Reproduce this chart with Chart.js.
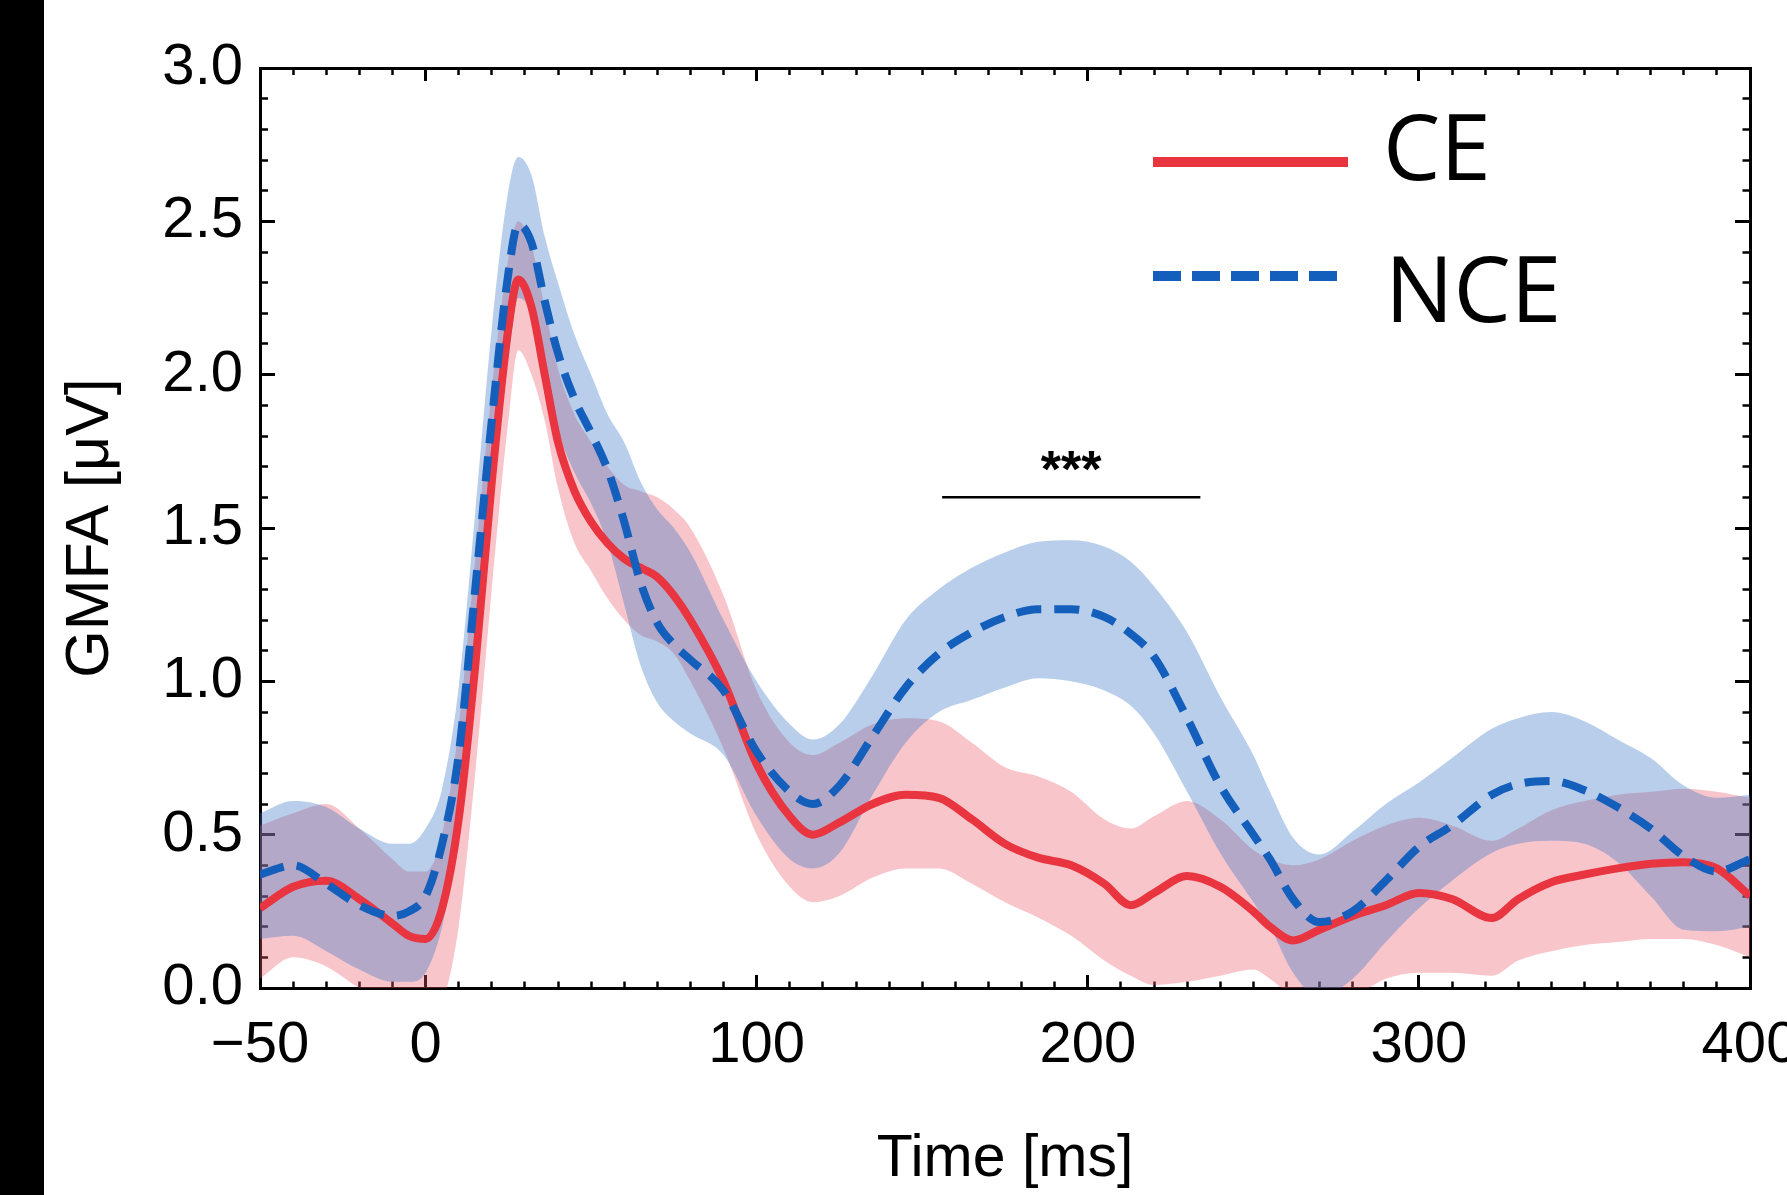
<!DOCTYPE html>
<html>
<head>
<meta charset="utf-8">
<title>GMFA CE vs NCE</title>
<script src="https://cdn.jsdelivr.net/npm/chart.js@4.4.1/dist/chart.umd.min.js"></script>
<style>
  html, body { margin: 0; padding: 0; background: #fff; overflow: hidden; }
  #wrap { position: absolute; left: 0; top: 0; width: 1847px; height: 1195px; }
  #bar { position: absolute; left: 0; top: 0; width: 44px; height: 1195px; background: #000; z-index: 2; }
</style>
</head>
<body>
<div id="wrap"><canvas id="chart" width="1847" height="1195"></canvas></div>
<div id="bar"></div>
<script>
// time axis (ms) shared by every series
const times   = [-50,-40,-30,-20,-10,-5,0,5,10,15,20,25,28,32,36,40,45,50,55,60,65,70,75,80,90,100,110,117,125,135,145,155,165,175,185,195,205,213,220,230,240,250,255,262,270,280,290,300,310,322,330,340,350,360,370,380,390,400];

// CE (solid red) mean and band
const ceMean  = [0.26,0.33,0.35,0.29,0.21,0.17,0.16,0.26,0.55,1.05,1.65,2.15,2.31,2.22,2.00,1.78,1.62,1.52,1.45,1.40,1.37,1.34,1.28,1.20,1.00,0.73,0.56,0.50,0.54,0.60,0.63,0.62,0.55,0.47,0.425,0.40,0.34,0.27,0.31,0.365,0.33,0.25,0.20,0.155,0.19,0.235,0.27,0.31,0.29,0.228,0.29,0.345,0.37,0.39,0.405,0.41,0.39,0.30];
const ceHigh  = [0.53,0.57,0.60,0.52,0.42,0.38,0.38,0.50,0.85,1.40,1.95,2.38,2.50,2.42,2.22,2.02,1.87,1.78,1.70,1.64,1.62,1.60,1.56,1.50,1.28,0.97,0.80,0.76,0.80,0.86,0.88,0.87,0.80,0.72,0.69,0.64,0.55,0.52,0.56,0.61,0.55,0.45,0.42,0.40,0.42,0.48,0.53,0.555,0.53,0.48,0.52,0.58,0.61,0.63,0.64,0.65,0.64,0.62];
const ceLow   = [0.03,0.10,0.07,0.00,-0.05,-0.08,-0.10,-0.05,0.20,0.70,1.30,1.85,2.08,2.00,1.85,1.63,1.45,1.36,1.27,1.20,1.15,1.13,1.09,1.00,0.78,0.50,0.33,0.28,0.30,0.36,0.39,0.39,0.34,0.28,0.23,0.17,0.09,0.04,0.01,0.02,0.04,0.06,0.03,-0.03,-0.06,-0.03,0.03,0.05,0.05,0.04,0.09,0.12,0.14,0.15,0.16,0.16,0.14,0.10];

// NCE (dashed blue) mean and band
const nceMean = [0.37,0.40,0.34,0.27,0.235,0.25,0.30,0.47,0.76,1.30,1.85,2.33,2.49,2.43,2.24,2.07,1.92,1.81,1.69,1.52,1.32,1.19,1.12,1.07,0.97,0.77,0.64,0.60,0.66,0.82,0.98,1.09,1.16,1.21,1.235,1.235,1.21,1.155,1.08,0.88,0.66,0.50,0.42,0.29,0.215,0.25,0.35,0.46,0.53,0.63,0.665,0.675,0.645,0.59,0.52,0.43,0.38,0.42];
const nceHigh = [0.57,0.61,0.59,0.52,0.47,0.47,0.52,0.65,0.98,1.55,2.15,2.60,2.71,2.65,2.45,2.30,2.13,2.00,1.87,1.78,1.65,1.56,1.50,1.42,1.20,1.00,0.86,0.81,0.86,1.02,1.20,1.30,1.37,1.42,1.455,1.46,1.44,1.39,1.31,1.16,0.95,0.76,0.64,0.49,0.435,0.51,0.60,0.67,0.75,0.845,0.88,0.90,0.87,0.81,0.75,0.66,0.62,0.63];
const nceLow  = [0.16,0.17,0.12,0.06,0.02,0.02,0.05,0.20,0.50,1.00,1.55,2.05,2.25,2.20,2.02,1.82,1.68,1.58,1.45,1.25,1.05,0.93,0.87,0.83,0.76,0.56,0.42,0.39,0.44,0.63,0.80,0.90,0.94,0.98,1.01,1.00,0.97,0.92,0.83,0.64,0.44,0.28,0.20,0.05,-0.03,0.03,0.15,0.26,0.35,0.44,0.47,0.48,0.47,0.41,0.30,0.19,0.185,0.20];

// significance bar
const sigSpan  = [156, 234];
const sigLevel = 1.6;
const sigLabel = '***';

// tick labels
const xLabelled = [-50, 0, 100, 200, 300, 400];
const xMajor    = [0, 100, 200, 300];

const RED  = '#e8353f',
      BLUE = '#135fbb',
      FONT = '"Liberation Sans", Arial, Helvetica, sans-serif';

function pts(ys) { return times.map(function(t, i) { return { x: t, y: ys[i] }; }); }

function isYMajor(v) { return Math.abs(v * 2 - Math.round(v * 2)) < 1e-6; }
function isXMajor(v) { return xMajor.indexOf(Math.round(v)) >= 0; }

// ticks point inward (negative length); minor ones are shortened with a dash
function tickGrid(len, major, fromBorder, minorLen) {
  return {
    drawOnChartArea: false,
    drawTicks: true,
    tickLength: -len,
    tickColor: '#000',
    tickWidth: function(c) { return c.tick && major(c.tick.value) ? 3 : 2.5; },
    tickBorderDash: function(c) {
      if (!c.tick || major(c.tick.value)) return [];
      return fromBorder ? [minorLen + 1.5, 200] : [0, len - minorLen, minorLen + 3, 200];
    }
  };
}

const frameBorder = { display: true, width: 3, color: '#000' };

const overlay = {
  id: 'overlay',
  afterDatasetsDraw: function(chart) {
    const ctx = chart.ctx, x = chart.scales.x, y = chart.scales.y;
    ctx.save();
    ctx.fillStyle = '#000';
    ctx.font = 'bold 52px ' + FONT;
    ctx.textAlign = 'center';
    ctx.textBaseline = 'alphabetic';
    ctx.fillText(sigLabel, x.getPixelForValue((sigSpan[0] + sigSpan[1]) / 2), y.getPixelForValue(sigLevel) - 10);

    // legend
    ctx.lineCap = 'butt';
    ctx.lineWidth = 10;
    ctx.strokeStyle = RED;
    ctx.setLineDash([]);
    ctx.beginPath(); ctx.moveTo(1153, 162); ctx.lineTo(1348, 162); ctx.stroke();
    ctx.strokeStyle = BLUE;
    ctx.setLineDash([28, 11]);
    ctx.beginPath(); ctx.moveTo(1153, 276); ctx.lineTo(1337, 276); ctx.stroke();
    ctx.setLineDash([]);
    ctx.font = '91px "Open Sans", "Noto Sans", sans-serif';
    ctx.textAlign = 'left';
    ctx.fillText(chart.data.datasets[1].label, 1383, 180);
    ctx.fillText(chart.data.datasets[0].label, 1385, 322);
    ctx.restore();
  }
};

new Chart(document.getElementById('chart').getContext('2d'), {
  type: 'line',
  plugins: [overlay],
  data: {
    datasets: [
      { label: 'NCE', data: pts(nceMean), borderColor: BLUE, borderWidth: 8, borderDash: [25, 13], fill: false },
      { label: 'CE',  data: pts(ceMean),  borderColor: RED,  borderWidth: 8, fill: false },
      { label: 'NCE hi', data: pts(nceHigh), borderWidth: 0, borderColor: 'rgba(0,0,0,0)', backgroundColor: 'rgba(60,120,200,0.36)', fill: '+1' },
      { label: 'NCE lo', data: pts(nceLow),  borderWidth: 0, borderColor: 'rgba(0,0,0,0)', fill: false },
      { label: 'CE hi',  data: pts(ceHigh),  borderWidth: 0, borderColor: 'rgba(0,0,0,0)', backgroundColor: 'rgba(235,90,105,0.35)', fill: '+1' },
      { label: 'CE lo',  data: pts(ceLow),   borderWidth: 0, borderColor: 'rgba(0,0,0,0)', fill: false },
      { label: 'sig', data: [{ x: sigSpan[0], y: sigLevel }, { x: sigSpan[1], y: sigLevel }], borderColor: '#000', borderWidth: 2.5, fill: false }
    ]
  },
  options: {
    responsive: false,
    animation: false,
    devicePixelRatio: 1,
    layout: { padding: 0 },
    elements: {
      point: { radius: 0, hoverRadius: 0 },
      line: { cubicInterpolationMode: 'monotone', borderCapStyle: 'butt' }
    },
    plugins: { legend: { display: false }, tooltip: { enabled: false } },
    scales: {
      x: {
        type: 'linear', position: 'bottom', min: -50, max: 400,
        afterFit: function(s) { s.height = 207; },
        border: frameBorder,
        grid: tickGrid(13, isXMajor, true, 7),
        ticks: {
          stepSize: 10, autoSkip: false, maxRotation: 0, padding: 36,
          color: '#000', font: { family: FONT, size: 58 },
          callback: function(v) {
            if (xLabelled.indexOf(v) < 0) return '';
            return v < 0 ? '\u2212' + Math.abs(v) : String(v);
          }
        },
        title: { display: true, text: 'Time [ms]', color: '#000', font: { family: FONT, size: 59 }, padding: { top: 0, bottom: 0 } }
      },
      x2: {
        type: 'linear', position: 'top', min: -50, max: 400,
        afterFit: function(s) { s.height = 68; },
        border: frameBorder,
        grid: tickGrid(13, isXMajor, false, 7),
        ticks: { stepSize: 10, autoSkip: false, display: false }
      },
      y: {
        type: 'linear', position: 'left', min: 0, max: 3,
        afterFit: function(s) { s.width = 260; },
        border: frameBorder,
        grid: tickGrid(15, isYMajor, false, 8),
        ticks: {
          stepSize: 0.1, autoSkip: false, padding: 32,
          color: '#000', font: { family: FONT, size: 58 },
          callback: function(v) { return isYMajor(v) ? v.toFixed(1) : ''; }
        },
        title: { display: true, text: 'GMFA [\u03bcV]', color: '#000', font: { family: FONT, size: 61 }, padding: { top: 55, bottom: 0 } }
      },
      y2: {
        type: 'linear', position: 'right', min: 0, max: 3,
        afterFit: function(s) { s.width = 97; },
        border: frameBorder,
        grid: tickGrid(15, isYMajor, true, 8),
        ticks: { stepSize: 0.1, autoSkip: false, display: false }
      }
    }
  }
});
</script>
</body>
</html>
